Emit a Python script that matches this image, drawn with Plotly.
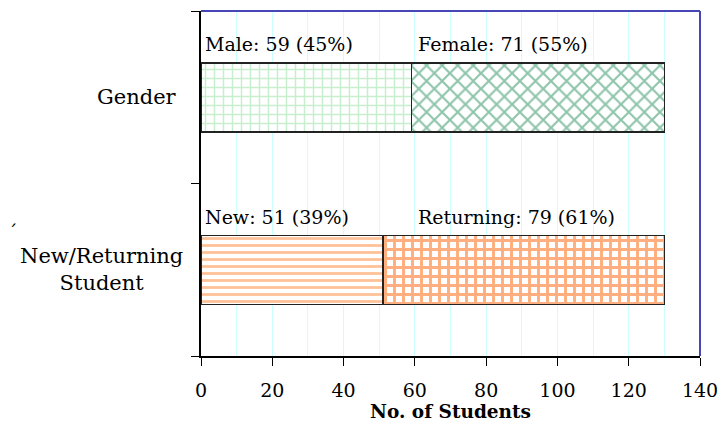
import plotly.graph_objects as go

# ======== DATA =========
categories = ["Gender", "New/Returning Student"]
cat_labels = ["Gender", "New/Returning<br>Student"]

segments = ["Male", "Female", "New", "Returning"]
seg_category = ["Gender", "Gender", "New/Returning Student", "New/Returning Student"]
seg_counts = [59, 71, 51, 79]
seg_pct = [45, 55, 39, 61]

x_ticks = [0, 20, 40, 60, 80, 100, 120, 140]

# ======== STYLE =========
FONT = "DejaVu Serif"
FONT_SIZE = 19

patterns = [
    dict(shape="+", fgcolor="#8fe09c", bgcolor="white", size=9, solidity=0.3),
    dict(shape="x", fgcolor="#1f8a58", bgcolor="white", size=11, solidity=0.35),
    dict(shape="-", fgcolor="#ff8430", bgcolor="white", size=7, solidity=0.4),
    dict(shape="+", fgcolor="#ff6000", bgcolor="white", size=9, solidity=0.55),
]

fig = go.Figure()

for name, cat, n, pat in zip(segments, seg_category, seg_counts, patterns):
    fig.add_trace(go.Bar(
        y=[cat], x=[n], name=name, orientation="h", width=0.4,
        marker=dict(color="white", pattern=pat,
                    line=dict(color="#222222", width=1.5)),
        showlegend=False,
    ))

# segment labels above the bars
annotations = []
bases = {}
for name, cat, n, p in zip(segments, seg_category, seg_counts, seg_pct):
    start = bases.get(cat, 0)
    bases[cat] = start + n
    x_lab = start + 0.5 if start == 0 else 60.2
    annotations.append(dict(
        x=x_lab, y=cat, xref="x", yref="y", xanchor="left", yanchor="middle",
        yshift=53, showarrow=False, text=f"{name}: {n} ({p}%)",
        font=dict(family=FONT, size=FONT_SIZE, color="black"),
    ))

# category labels (centred lines)
for cat, lab in zip(categories, cat_labels):
    annotations.append(dict(
        x=0, y=cat, xref="paper", yref="y", xanchor="right", yanchor="middle",
        xshift=-22 if "<br>" not in lab else -16, showarrow=False, text=lab,
        align="center", font=dict(family=FONT, size=21, color="black"),
    ))

annotations.append(dict(
    x=-0.39, y=0.36, xref="paper", yref="paper", xanchor="left",
    showarrow=False, text="´",
    font=dict(family=FONT, size=FONT_SIZE, color="black"),
))

# page body adds an 8px offset, margins compensate for it
fig.update_layout(
    barmode="stack",
    width=728, height=443,
    margin=dict(l=193, r=36, t=3, b=95),
    paper_bgcolor="white", plot_bgcolor="white",
    font=dict(family=FONT, size=FONT_SIZE, color="black"),
    annotations=annotations,
    shapes=[
        dict(type="line", xref="paper", yref="paper", x0=0, x1=1, y0=1, y1=1,
             line=dict(color="#4646b4", width=2)),
        dict(type="line", xref="paper", yref="paper", x0=1, x1=1, y0=0, y1=1,
             line=dict(color="#4646b4", width=2)),
    ],
)

fig.update_xaxes(
    range=[0, 140], tickvals=x_ticks, ticks="outside", ticklen=8,
    tickcolor="black", showline=True, linecolor="black", linewidth=1.5,
    ticklabelstandoff=8,
    showgrid=True, gridcolor="#ccffff", gridwidth=1,
    minor=dict(dtick=10, showgrid=True, gridcolor="#ccffff", ticks=""),
    zeroline=False,
    title=dict(text="<b>No. of Students</b>", standoff=2,
               font=dict(family=FONT, size=18.5)),
)

fig.update_yaxes(
    categoryorder="array", categoryarray=categories[::-1],
    range=[-0.5, 1.5], tickson="boundaries", ticks="outside", ticklen=8,
    tickcolor="black", showline=True, linecolor="black", linewidth=1.5,
    showgrid=False, showticklabels=False, zeroline=False,
)

fig.write_html("out.html")
